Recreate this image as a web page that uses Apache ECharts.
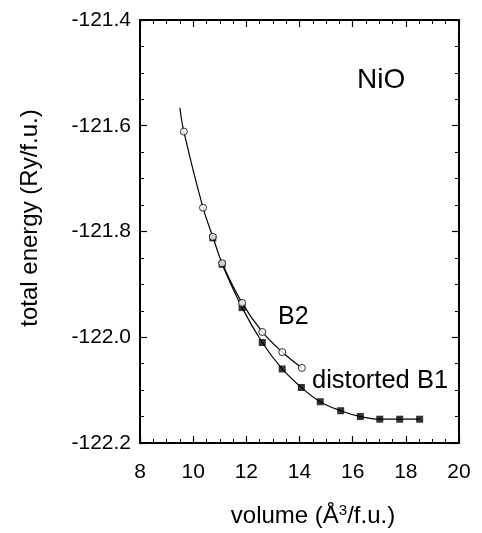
<!DOCTYPE html>
<html><head><meta charset="utf-8">
<script src="https://cdn.jsdelivr.net/npm/echarts@6/dist/echarts.min.js"></script>
<style>html,body{margin:0;padding:0;background:#fff}#c{width:482px;height:533px}</style>
</head><body><div id="c"></div>
<script>
// B2 (open circles): volume (Å^3/f.u.), total energy (Ry/f.u.)
const b2Volume = [9.65, 10.37, 10.74, 11.09, 11.84, 12.6, 13.35, 14.09];
const b2Energy = [-121.611, -121.755, -121.810, -121.860, -121.935, -121.990, -122.028, -122.058];
// distorted B1 (filled squares)
const b1Volume = [10.74, 11.09, 11.84, 12.6, 13.35, 14.07, 14.78, 15.55, 16.29, 17.02, 17.77, 18.52];
const b1Energy = [-121.812, -121.862, -121.944, -122.010, -122.060, -122.095, -122.122, -122.139, -122.150, -122.155, -122.155, -122.155];
// fitted curve start (top end of the B2 curve)
const b2CurveStart = [9.5, -121.566];
const xTicks = [8, 10, 12, 14, 16, 18, 20];
const yTicks = [-122.2, -122.0, -121.8, -121.6, -121.4];

const F = 'Liberation Sans, Arial, Helvetica, sans-serif';
const pts = (xs, ys) => xs.map((x, i) => [x, ys[i]]);
const b2Pts = pts(b2Volume, b2Energy);
const b1Pts = pts(b1Volume, b1Energy);

const chart = echarts.init(document.getElementById('c'), null, {renderer: 'canvas'});
const axisCommon = {
  axisLine: {show: true, onZero: false, lineStyle: {color: '#000', width: 2}},
  axisTick: {show: true, inside: true, length: 7, lineStyle: {color: '#000', width: 1.2}},
  minorTick: {show: true, splitNumber: 4, length: 4, lineStyle: {color: '#000', width: 1}},
  splitLine: {show: false}
};
chart.setOption({
  animation: false,
  backgroundColor: '#fff',
  grid: {left: 140, right: 23, top: 20, bottom: 90},
  xAxis: [
    Object.assign({type: 'value', min: xTicks[0], max: xTicks[xTicks.length - 1], interval: 2, position: 'bottom',
      axisLabel: {color: '#000', fontFamily: F, fontSize: 21, margin: 19}
    }, axisCommon),
    Object.assign({type: 'value', min: xTicks[0], max: xTicks[xTicks.length - 1], interval: 2, position: 'top',
      axisLabel: {show: false}}, axisCommon)
  ],
  yAxis: [
    Object.assign({type: 'value', min: yTicks[0], max: yTicks[yTicks.length - 1], interval: 0.2, position: 'left',
      axisLabel: {color: '#000', fontFamily: F, fontSize: 21, margin: 9, formatter: v => v.toFixed(1)}
    }, axisCommon),
    Object.assign({type: 'value', min: yTicks[0], max: yTicks[yTicks.length - 1], interval: 0.2, position: 'right',
      axisLabel: {show: false}}, axisCommon)
  ],
  series: [
    {type: 'line', smooth: 0.4, symbol: 'none', data: b1Pts.slice(1),
      lineStyle: {color: '#000', width: 1.2}, z: 2},
    {type: 'line', smooth: 0.4, symbol: 'none', data: [b2CurveStart].concat(b2Pts),
      lineStyle: {color: '#000', width: 1.2}, z: 2},
    {type: 'scatter', symbol: 'rect', symbolSize: 7, data: b1Pts,
      itemStyle: {color: '#000'}, z: 3},
    {type: 'scatter', symbol: 'circle', symbolSize: 7, data: b2Pts,
      itemStyle: {color: '#fff', borderColor: '#000', borderWidth: 1}, z: 4}
  ],
  graphic: [
    {type: 'text', x: 30, y: 218, rotation: Math.PI / 2,
      style: {text: 'total energy (Ry/f.u.)', font: '24px ' + F, fill: '#000', align: 'center', verticalAlign: 'middle'}},
    {type: 'text', x: 313, y: 516,
      style: {text: 'volume (Å{sup|3}/f.u.)', font: '24px ' + F, fill: '#000', align: 'center', verticalAlign: 'middle',
        rich: {sup: {font: '15px ' + F, fill: '#000', verticalAlign: 'top', padding: [0, 0, 10, 0]}}}},
    {type: 'text', left: 357, top: 66, style: {text: 'NiO', font: '28px ' + F, fill: '#000'}},
    {type: 'text', left: 278, top: 305, style: {text: 'B2', font: '25px ' + F, fill: '#000'}},
    {type: 'text', left: 312, top: 368, style: {text: 'distorted B1', font: '25.5px ' + F, fill: '#000'}}
  ]
});
</script></body></html>
